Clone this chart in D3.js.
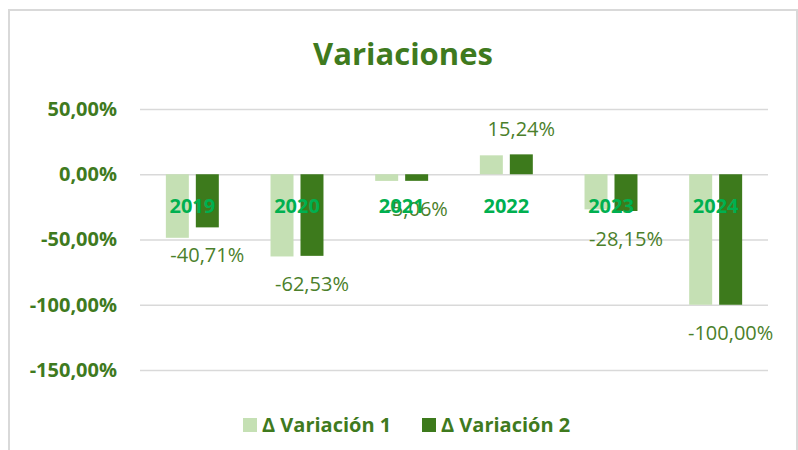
<!DOCTYPE html>
<html>
<head>
<meta charset="utf-8">
<script src="https://cdn.jsdelivr.net/npm/d3@7"></script>
<style>
  body { margin: 0; background: #fff; }
  svg { display: block; font-family: "Open Sans", sans-serif; }
</style>
</head>
<body>
<svg width="798" height="450"></svg>
<script>
// chart values
const categories = ["2019", "2020", "2021", "2022", "2023", "2024"];
const variacion1 = [-48.7, -63.0, -5.1, 14.5, -26.9, -100];
const variacion2 = [-40.71, -62.53, -5.06, 15.24, -28.15, -100];
const seriesNames = ["\u0394 Variación 1", "\u0394 Variación 2"];
const yTicks = [50, 0, -50, -100, -150];

const svg = d3.select("svg");
const green = "#3f7a1e";
const colors = ["#c5e0b4", "#3d7a1c"];

// spanish style numbers, plain hyphen for the minus
const es = d3.formatLocale({decimal: ",", thousands: ".", grouping: [3], currency: ["", "€"], minus: "-"});
const pct = v => es.format(".2f")(v) + "%";

// outer frame
svg.append("rect")
  .attr("x", 9).attr("y", 10)
  .attr("width", 788).attr("height", 470)
  .attr("fill", "#fff")
  .attr("stroke", "#d9d9d9")
  .attr("stroke-width", 2);

const x0 = d3.scaleBand()
  .domain(categories)
  .range([140, 768])
  .paddingInner(0.494)
  .paddingOuter(0.247);

const x1 = d3.scaleBand()
  .domain([0, 1])
  .range([0, x0.bandwidth()])
  .paddingInner(0.233);

const y = d3.scaleLinear()
  .domain([-150, 50])
  .range([370, 109]);

// gridlines + y labels
const yAxis = svg.append("g")
  .attr("transform", "translate(140,0)")
  .call(d3.axisLeft(y).tickValues(yTicks).tickSize(-628).tickPadding(23).tickFormat(pct));
yAxis.select(".domain").remove();
yAxis.selectAll("line").attr("stroke", "#d9d9d9").attr("stroke-width", 1.5);
yAxis.selectAll("text")
  .attr("fill", green)
  .attr("font-size", 20)
  .attr("font-weight", "bold")
  .attr("font-family", "Open Sans");

// bars
const rows = categories.map((c, i) => ({cat: c, vals: [variacion1[i], variacion2[i]]}));

const groups = svg.append("g").selectAll("g")
  .data(rows)
  .join("g")
  .attr("transform", d => `translate(${x0(d.cat)},0)`);

groups.selectAll("rect")
  .data(d => d.vals.map((v, k) => ({k, v})))
  .join("rect")
  .attr("x", d => x1(d.k))
  .attr("width", x1.bandwidth())
  .attr("y", d => y(Math.max(0, d.v)))
  .attr("height", d => Math.abs(y(d.v) - y(0)))
  .attr("fill", d => colors[d.k]);

// data labels (series 2 only)
groups.append("text")
  .attr("x", x1(1) + x1.bandwidth() / 2)
  .attr("y", d => d.vals[1] < 0 ? y(d.vals[1]) + 35 : y(d.vals[1]) - 18)
  .attr("text-anchor", "middle")
  .attr("font-size", 20)
  .attr("fill", "#4b7f2b")
  .text(d => pct(d.vals[1]));

// category labels on the zero line
const xAxis = svg.append("g")
  .attr("transform", `translate(0,${y(0)})`)
  .call(d3.axisBottom(x0).tickSize(0).tickPadding(25));
xAxis.select(".domain").remove();
xAxis.selectAll("text")
  .attr("fill", "#00b050")
  .attr("font-size", 20)
  .attr("font-weight", "bold")
  .attr("font-family", "Open Sans");

// title
svg.append("text")
  .attr("x", 403).attr("y", 65)
  .attr("text-anchor", "middle")
  .attr("font-size", 31)
  .attr("font-weight", "bold")
  .attr("fill", green)
  .text("Variaciones");

// legend
const legendX = [243, 422];
const legend = svg.append("g").selectAll("g")
  .data(seriesNames)
  .join("g")
  .attr("transform", (d, i) => `translate(${legendX[i]},418)`);

legend.append("rect")
  .attr("width", 14).attr("height", 14)
  .attr("fill", (d, i) => colors[i]);

legend.append("text")
  .attr("x", 19).attr("y", 14)
  .attr("font-size", 20)
  .attr("font-weight", "bold")
  .attr("fill", green)
  .text(d => d);
</script>
</body>
</html>
